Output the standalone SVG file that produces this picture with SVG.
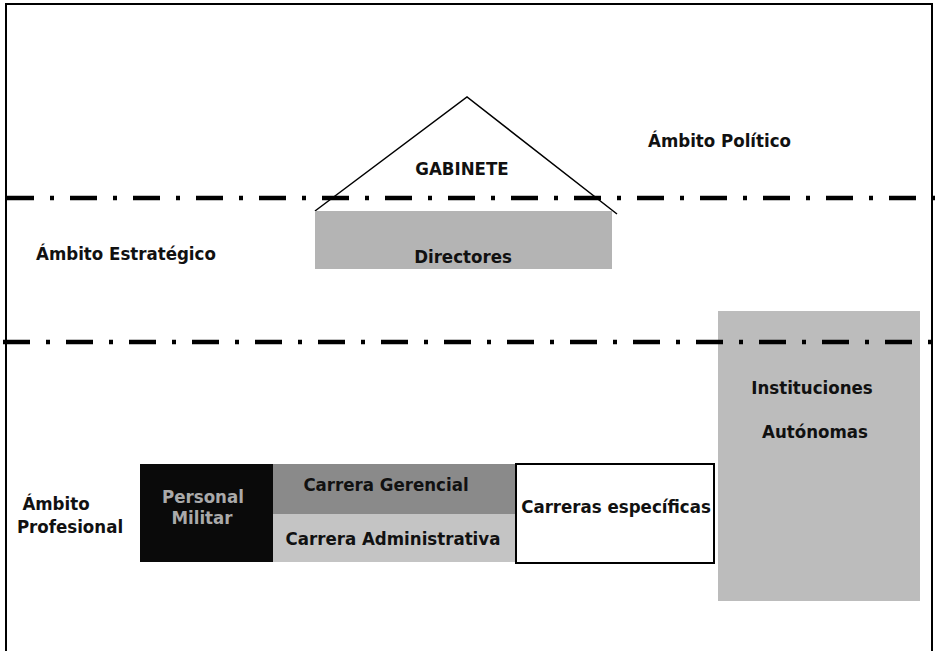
<svg xmlns="http://www.w3.org/2000/svg" width="935" height="651" viewBox="0 0 935 651">
<style>
.t{font-family:"DejaVu Sans Condensed","Liberation Sans",sans-serif;font-weight:bold;fill:#111;font-size:18.5px;}
.dd{stroke:#000;stroke-width:4.5;fill:none;stroke-dasharray:27 16 4 16;}
.frame{stroke:#000;stroke-width:2;fill:none;}
</style>
<rect width="935" height="651" fill="#fff"/>
<path class="frame" d="M6,651 V4 H932 V651"/>
<g id="gabinete">
<polyline points="315,211 467,97 617,214" fill="none" stroke="#000" stroke-width="1.5"/>
<text class="t" x="462" y="175" text-anchor="middle">GABINETE</text>
</g>
<g id="politico"><text class="t" x="648" y="147">Ámbito Político</text></g>
<g id="estrategico"><text class="t" x="36" y="260">Ámbito Estratégico</text></g>
<g id="directores">
<rect x="315" y="211" width="297" height="58" fill="#b4b4b4"/>
<text class="t" x="463" y="263" text-anchor="middle">Directores</text>
</g>
<g id="instituciones">
<rect x="718" y="311" width="202" height="290" fill="#bcbcbc"/>
<text class="t" x="812" y="394" text-anchor="middle">Instituciones</text>
<text class="t" x="815" y="438" text-anchor="middle">Autónomas</text>
</g>
<g id="profesional">
<text class="t" x="56" y="510" text-anchor="middle">Ámbito</text>
<text class="t" x="70" y="533" text-anchor="middle">Profesional</text>
</g>
<g id="militar">
<rect x="140" y="464" width="133" height="98" fill="#0a0a0a"/>
<text class="t" x="203" y="503" text-anchor="middle" style="fill:#aaa">Personal</text>
<text class="t" x="202" y="524" text-anchor="middle" style="fill:#aaa">Militar</text>
</g>
<g id="gerencial">
<rect x="273" y="464" width="242" height="50" fill="#8a8a8a"/>
<text class="t" x="386" y="491" text-anchor="middle">Carrera Gerencial</text>
</g>
<g id="administrativa">
<rect x="273" y="514" width="242" height="48" fill="#c4c4c4"/>
<text class="t" x="393" y="545" text-anchor="middle">Carrera Administrativa</text>
</g>
<g id="especificas">
<rect x="516" y="464" width="198" height="99" fill="#fff" stroke="#000" stroke-width="2"/>
<text class="t" x="616" y="513" text-anchor="middle">Carreras específicas</text>
</g>
<g id="connectors">
<line class="dd" x1="7" y1="198" x2="935" y2="198"/>
<line class="dd" x1="3" y1="342" x2="935" y2="342"/>
</g>
</svg>
